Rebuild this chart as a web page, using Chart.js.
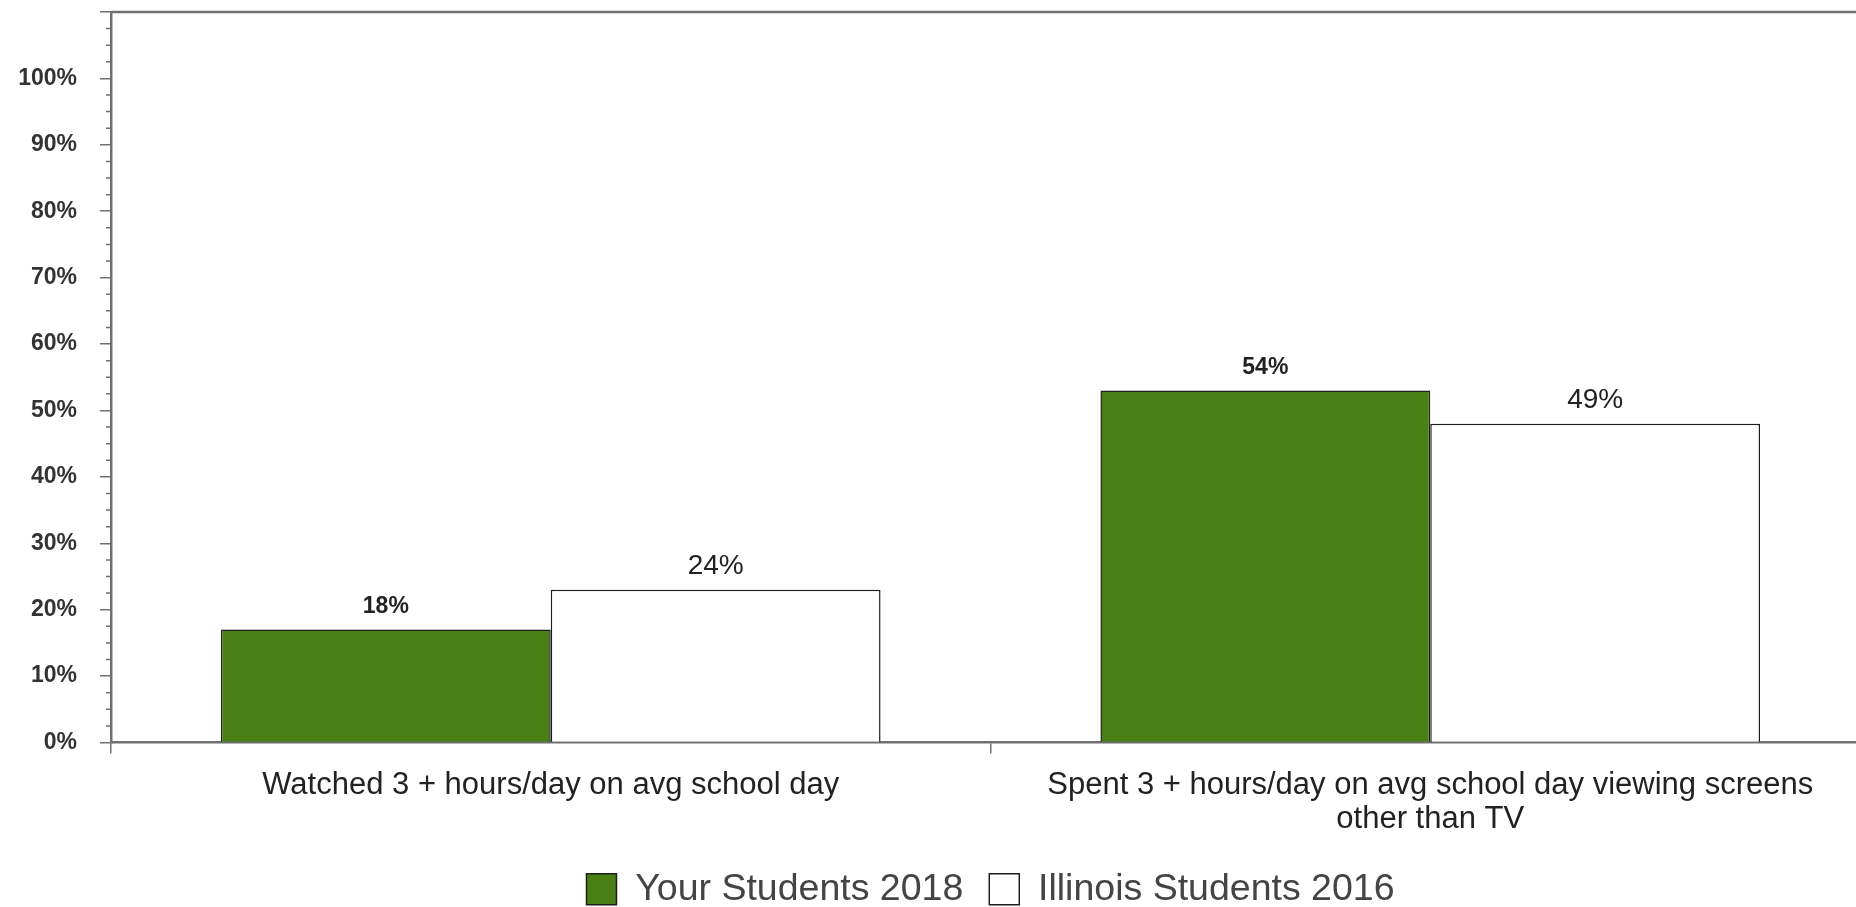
<!DOCTYPE html>
<html>
<head>
<meta charset="utf-8">
<script src="https://cdn.jsdelivr.net/npm/chart.js@4.4.1/dist/chart.umd.min.js"></script>
<style>
  html, body { margin: 0; padding: 0; background: #fff; overflow: hidden; }
  #wrap { width: 1872px; height: 907px; }
</style>
</head>
<body>
<div id="wrap"><canvas id="screenChart"></canvas></div>
<script>
// Data
const categories = [
    'Watched 3 + hours/day on avg school day',
    ['Spent 3 + hours/day on avg school day viewing screens', 'other than TV']
];
const seriesNames = ['Your Students 2018', 'Illinois Students 2016'];
const yourValues = [17, 53];
const illinoisValues = [23, 48];
const yourLabels = ['18%', '54%'];
const illinoisLabels = ['24%', '49%'];
const yTickLabels = ['0%', '10%', '20%', '30%', '40%', '50%', '60%', '70%', '80%', '90%', '100%'];

// pick the narrow face if it is installed
function hasFont(name) {
    const c = document.createElement('canvas').getContext('2d');
    const s = 'abcdefghijklmnop 0123456789%';
    c.font = '40px monospace';
    const w = c.measureText(s).width;
    c.font = '40px "' + name + '", monospace';
    return c.measureText(s).width !== w;
}
const narrow = hasFont('Liberation Sans Narrow');
const plainFamily = "'Liberation Sans', Arial, sans-serif";
const narrowFamily = narrow ? "'Liberation Sans Narrow', " + plainFamily : plainFamily;
const k = narrow ? 1 : 0.82;

const axisColor = '#707070';

// top border line and minor ticks on the y axis
const frame = {
    id: 'frame',
    afterDraw(chart) {
        const { ctx, chartArea: a, scales: { y } } = chart;
        ctx.save();
        ctx.strokeStyle = axisColor;
        ctx.lineWidth = 2.5;
        ctx.beginPath();
        ctx.moveTo(a.left, a.top);
        ctx.lineTo(a.right, a.top);
        ctx.stroke();
        ctx.lineWidth = 1.5;
        ctx.beginPath();
        for (let v = 2.5; v < 110; v += 2.5) {
            if (v % 10 === 0) continue;
            const py = y.getPixelForValue(v);
            ctx.moveTo(a.left - 5, py);
            ctx.lineTo(a.left, py);
        }
        ctx.stroke();
        ctx.restore();
    }
};

// value labels above the bars
const barLabels = {
    id: 'barLabels',
    afterDatasetsDraw(chart) {
        const ctx = chart.ctx;
        const sets = [yourLabels, illinoisLabels];
        chart.data.datasets.forEach((ds, i) => {
            chart.getDatasetMeta(i).data.forEach((bar, j) => {
                ctx.save();
                ctx.font = i === 0
                    ? 'bold ' + Math.round(28 * k) + 'px ' + narrowFamily
                    : Math.round(34 * k) + 'px ' + narrowFamily;
                ctx.fillStyle = '#222';
                ctx.textAlign = 'center';
                ctx.textBaseline = 'middle';
                ctx.fillText(sets[i][j], bar.x, bar.y - 23);
                ctx.restore();
            });
        });
    }
};

const ctx = document.getElementById('screenChart').getContext('2d');
new Chart(ctx, {
    type: 'bar',
    data: {
        labels: categories,
        datasets: [
            { label: seriesNames[0], data: yourValues, backgroundColor: '#4a7f16', borderColor: '#1e1e1e', borderWidth: 1.5 },
            { label: seriesNames[1], data: illinoisValues, backgroundColor: '#ffffff', borderColor: '#1e1e1e', borderWidth: 1.5 }
        ]
    },
    options: {
        responsive: true,
        maintainAspectRatio: false,
        animation: false,
        layout: { padding: { top: 12, right: 2, bottom: -11, left: 0 } },
        datasets: { bar: { categoryPercentage: 0.75, barPercentage: 1 } },
        plugins: {
            legend: {
                position: 'bottom',
                fullSize: false,
                labels: {
                    font: { family: plainFamily, size: 37.5 },
                    color: '#444',
                    boxWidth: 30,
                    boxHeight: 31,
                    padding: 26
                }
            },
            tooltip: { enabled: false }
        },
        scales: {
            x: {
                grid: { drawOnChartArea: false, tickLength: 11, color: axisColor, lineWidth: 1.5 },
                border: { color: axisColor, width: 2.5 },
                ticks: {
                    font: { family: plainFamily, size: 31, lineHeight: 1.1 },
                    color: '#222',
                    padding: 15,
                    maxRotation: 0,
                    autoSkip: false
                },
                afterFit: s => { s.height = 102; s.paddingLeft = 0; s.paddingRight = 0; }
            },
            y: {
                min: 0,
                max: 110,
                grid: { drawOnChartArea: false, tickLength: 11, color: axisColor, lineWidth: 1.5 },
                border: { color: axisColor, width: 2.5 },
                ticks: {
                    stepSize: 10,
                    callback: (v, i) => yTickLabels[i] || '',
                    font: { family: narrowFamily, size: Math.round(28 * k), weight: 'bold' },
                    color: '#333',
                    padding: 23
                },
                afterFit: s => { s.width = 111; s.paddingTop = 0; s.paddingBottom = 0; }
            }
        }
    },
    plugins: [frame, barLabels]
});
</script>
</body>
</html>
